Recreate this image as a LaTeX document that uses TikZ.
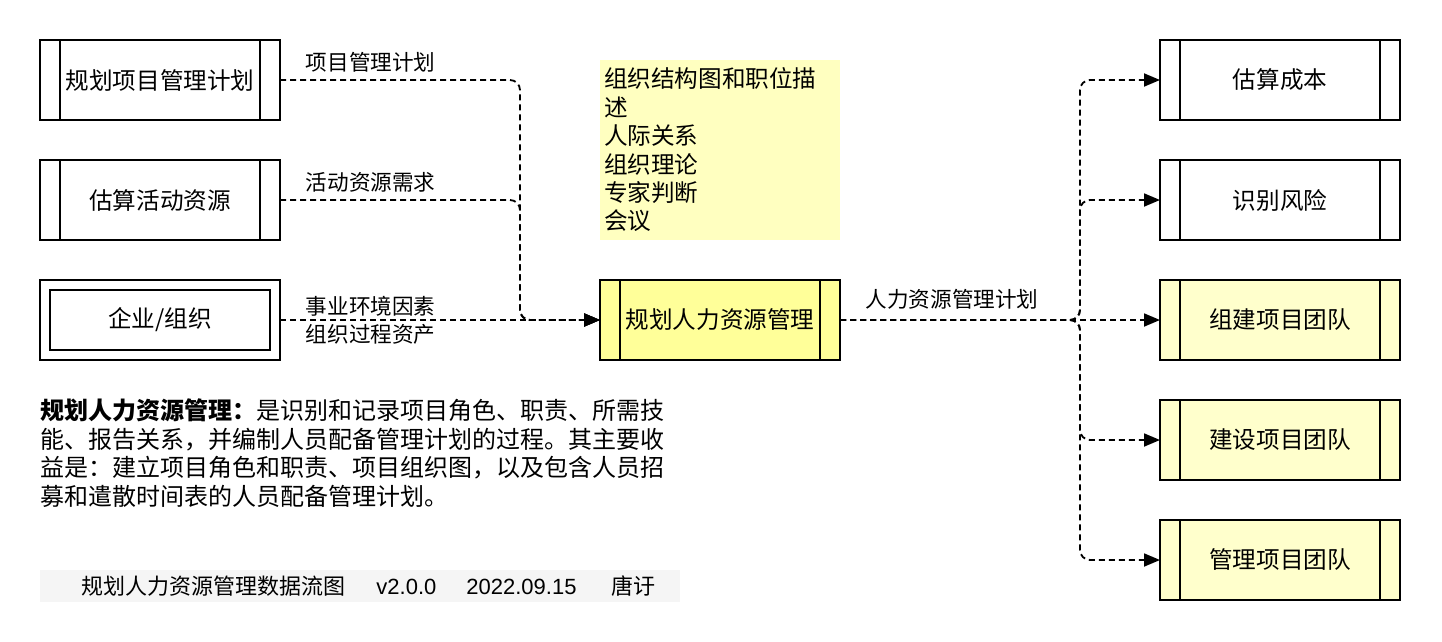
\documentclass[tikz,border=0pt]{standalone}
\usepackage{fontspec}
\setmainfont{Noto Sans CJK SC}
\newfontfamily\latin{Liberation Sans}
\usetikzlibrary{arrows.meta,positioning}
\definecolor{hot}{HTML}{FFFF99}
\definecolor{pale}{HTML}{FFFFCC}
\definecolor{memo}{HTML}{FFFFC0}
\definecolor{strip}{HTML}{F5F5F5}
\newcommand{\bigfont}{\fontsize{23.6}{28.4}\selectfont}
\newcommand{\smallfont}{\fontsize{21.6}{28}\selectfont}

\begin{document}
\begin{tikzpicture}[x=1pt,y=-1pt,>={Triangle[length=16pt,width=13pt]},node distance=40pt,
box/.style={draw,line width=2pt,outer sep=0pt,minimum width=240pt,minimum height=80pt,font=\bigfont,
path picture={\draw[line width=2pt] ([xshift=20pt]path picture bounding box.north west)--([xshift=20pt]path picture bounding box.south west);
\draw[line width=2pt] ([xshift=-20pt]path picture bounding box.north east)--([xshift=-20pt]path picture bounding box.south east);}},
ext/.style={draw,line width=2pt,outer sep=0pt,minimum width=240pt,minimum height=80pt,font=\bigfont,
path picture={\draw[line width=2pt] ([shift={(10pt,-10pt)}]path picture bounding box.north west) rectangle ([shift={(-10pt,10pt)}]path picture bounding box.south east);}},
note/.style={fill=memo,outer sep=0pt,minimum width=240pt,minimum height=180pt,text width=232pt,inner xsep=4pt,inner ysep=0pt,align=left,font=\bigfont},
flow/.style={->,dash pattern=on 6pt off 4pt,line width=1.8pt,rounded corners=10pt},
lbl/.style={font=\smallfont,inner sep=0pt,anchor=south west,xshift=25pt,yshift=7pt},
lbltwo/.style={font=\smallfont,inner sep=0pt,anchor=west,xshift=25pt,align=left},
lblout/.style={font=\smallfont,inner sep=0pt,anchor=south,pos=.35,yshift=10pt}]
\useasboundingbox (0,0) rectangle (1442,642);
\node[box] (plan) at (160,80) {规划项目管理计划};
\node[box,below=of plan] (est) {估算活动资源};
\node[ext,below=of est] (ent) {企业/组织};
\node[box,fill=hot,right=320pt of ent] (hr) {规划人力资源管理};
\node[note,above=of hr] (tools) {组织结构图和职位描\\述\\人际关系\\组织理论\\专家判断\\会议};
\node[box,fill=pale,right=320pt of hr] (acq) {组建项目团队};
\node[box,above=of acq] (risk) {识别风险};
\node[box,above=of risk] (cost) {估算成本};
\node[box,fill=pale,below=of acq] (dev) {建设项目团队};
\node[box,fill=pale,below=of dev] (mng) {管理项目团队};
\node[anchor=north west,align=left,inner sep=0pt,font=\fontsize{24}{28.4}\selectfont] (desc) at (40,399)
{{\bfseries 规划人力资源管理：}是识别和记录项目角色、职责、所需技\\能、报告关系，并编制人员配备管理计划的过程。其主要收\\益是：建立项目角色和职责、项目组织图，以及包含人员招\\募和遣散时间表的人员配备管理计划。};
\node[fill=strip,minimum width=640pt,minimum height=32pt,inner sep=0pt,font=\fontsize{22}{26}\selectfont] (foot) at (360,586)
{\hspace*{17pt}规划人力资源管理数据流图\hspace{31pt}{\latin v2.0.0}\hspace{30pt}{\latin 2022.09.15}\hspace{35pt}唐𬣙};
\draw[flow] (plan.east) node[lbl]{项目管理计划} -- ++(240,0) |- (hr.west);
\draw[flow] (est.east) node[lbl]{活动资源需求} -- ++(240,0) |- (hr.west);
\draw[flow] (ent.east) node[lbltwo]{事业环境因素\\组织过程资产} -- (hr.west);
\draw[flow] (hr.east) -- node[lblout]{人力资源管理计划} (acq.west);
\draw[flow] (hr.east) -- ++(240,0) |- (cost.west);\draw[flow] (hr.east) -- ++(240,0) |- (risk.west);
\draw[flow] (hr.east) -- ++(240,0) |- (dev.west);\draw[flow] (hr.east) -- ++(240,0) |- (mng.west);
\end{tikzpicture}
\end{document}
